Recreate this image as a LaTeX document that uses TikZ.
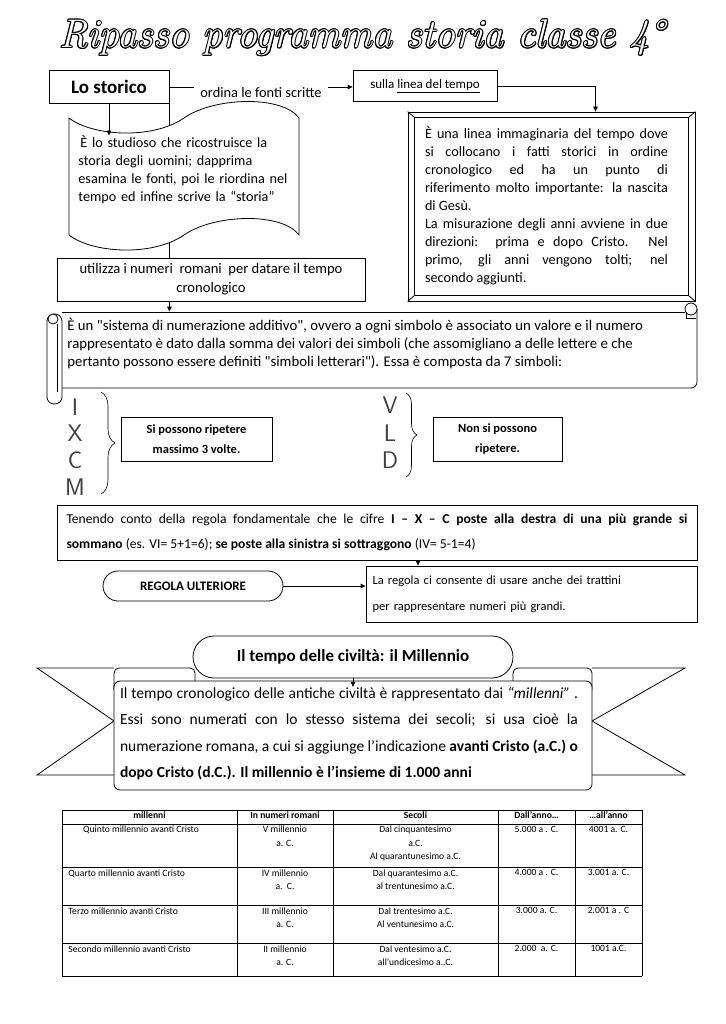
\documentclass[tikz,border=0pt]{standalone}
\usepackage{fontspec}
\setmainfont{Carlito}[Ligatures=TeXOff]
\newfontfamily\titlefont{Latin Modern Roman}
\usetikzlibrary{arrows.meta,decorations.pathreplacing}

\tikzset{
  box/.style={
    draw,
    fill=white,
    inner sep=0pt
  },
  arr/.style={
    -{Triangle[length=5pt,width=4.5pt]}
  },
  brc/.style={
    decorate,
    decoration={brace, amplitude=14pt},
    line width=0.6pt
  },
  numeral/.style={
    text=black!75,
    font=\sffamily\fontsize{24}{24}\selectfont
  },
  cell/.style={
    font=\fontsize{9.6}{13.5}\selectfont,
    align=center,
    anchor=north,
    inner sep=0pt
  },
  titletext/.style={
    font=\titlefont\itshape\fontsize{40}{40}\selectfont
  }
}

\begin{document}
\begin{tikzpicture}[x=1pt, y=-1pt, line width=0.8pt]
  \useasboundingbox (0,0) rectangle (725,1024);
  \fill[white] (0,0) rectangle (725,1024);

  \foreach \a in {0,30,...,330}
    \node[titletext] at ([shift={(\a:1)}]362,38) {Ripasso programma storia classe 4°};
  \node[titletext, text=white] (title) at (362,38) {Ripasso programma storia classe 4°};

  \node[box, minimum width=120pt, minimum height=33pt,
    font=\bfseries\fontsize{19}{22}\selectfont] (storico) at (109,87) {Lo storico};
  \node[box, minimum width=144pt, minimum height=31pt,
    font=\fontsize{13}{15}\selectfont] (linea) at (425,86) {sulla \underline{linea del tempo}};
  \draw[arr] (storico.east) -- node[fill=white, yshift=-6pt, inner xsep=6pt,
    font=\fontsize{14.4}{16}\selectfont] (ordina) {ordina le fonti scritte} (storico.east -| linea.west);

  \node[box, minimum width=308pt, minimum height=43pt, align=center,
    font=\fontsize{14.6}{19}\selectfont] (utilizza) at (211,279.5)
    {utilizza i numeri\ \ romani\ \ per datare il tempo\\cronologico};
  \draw (storico.south east) -- (storico.south east |- utilizza.north);

  \draw[fill=white] (69,118) .. controls (92,136) and (152,140) .. (184,118)
    .. controls (214,97) and (282,95) .. (299,118)
    -- (299,235)
    .. controls (282,212) and (214,214) .. (184,235)
    .. controls (152,257) and (92,253) .. (69,235) -- cycle;
  \node[anchor=west, text width=215pt, align=left, inner sep=0pt,
    font=\fontsize{14.2}{18}\selectfont] (studioso) at (78,170)
    {\hspace{2pt}È lo studioso che ricostruisce la\\storia degli uomini; dapprima\\esamina le fonti, poi le riordina nel\\tempo ed infine scrive la “storia”};
  \draw[arr] (storico.south) -- (storico.south |- studioso.north);

  \node[box, minimum width=287pt, minimum height=189pt] (frame) at (551.5,206.5) {};
  \draw ([shift={(7,6)}]frame.north west) rectangle ([shift={(-7,-6)}]frame.south east);
  \foreach \c/\dx/\dy in {north west/7/6, north east/-7/6, south west/7/-6, south east/-7/-6}
    \draw (frame.\c) -- ([shift={(\dx,\dy)}]frame.\c);
  \node[text width=243pt, align=justify, inner sep=0pt,
    font=\fontsize{14.2}{18}\selectfont] (frametext) at (546.5,205.5)
    {È una linea immaginaria del tempo dove\linebreak
     si collocano i fatti storici in ordine\linebreak
     cronologico ed ha un punto di\linebreak
     riferimento molto importante: la nascita\linebreak
     di Gesù.\\
     La misurazione degli anni avviene in due\linebreak
     direzioni:\ \ prima e dopo Cristo. Nel\linebreak
     primo, gli anni vengono tolti; nel\linebreak
     secondo aggiunti.};
  \draw[arr] (linea.east) -| ([xshift=44pt]frame.north);

  \node[minimum width=635pt, minimum height=76pt, inner sep=0pt] (scroll) at (379.5,350) {};
  \draw (62,312) -- (685,312);
  \draw[rounded corners=6pt] (697,309) -- (697,388) -- (62,388);
  \draw (691,309) circle (6pt);
  \draw (686,313) -- (686,318) -- (696,318);
  \draw[fill=white, rounded corners=7pt] (47,314) rectangle (62,404);
  \draw[fill=white] (53,319) circle (5pt);
  \draw (57,324) -- (57,392);
  \draw[arr] (storico.south east |- utilizza.south) -- (storico.south east |- scroll.north);
  \node[anchor=west, align=left, inner sep=0pt,
    font=\fontsize{14.8}{18}\selectfont] (additivo) at (67,344)
    {È un "sistema di numerazione additivo", ovvero a ogni simbolo è associato un valore e il numero\\
     rappresentato è dato dalla somma dei valori dei simboli (che assomigliano a delle lettere e che\\
     pertanto possono essere definiti "simboli letterari"). Essa è composta da 7 simboli:};

  \node[numeral] (nI) at (75,407) {I};
  \node[numeral] (nX) at (75,433) {X};
  \node[numeral] (nC) at (75,460) {C};
  \node[numeral] (nM) at (75,487) {M};
  \draw[brc] (101,392) -- (101,494);
  \node[box, minimum width=151pt, minimum height=44pt, align=center,
    font=\bfseries\fontsize{12.5}{20}\selectfont] (ripeti) at (196.5,439)
    {Si possono ripetere\\massimo 3 volte.};

  \node[numeral] (nV) at (390,405) {V};
  \node[numeral] (nL) at (390,433) {L};
  \node[numeral] (nD) at (390,460) {D};
  \draw[brc, decoration={amplitude=11pt}] (406,393) -- (406,477);
  \node[box, minimum width=129pt, minimum height=44pt, align=center,
    font=\bfseries\fontsize{12.5}{20}\selectfont] (nonripeti) at (497.5,439)
    {Non si possono\\ripetere.};

  \node[box, minimum width=640pt, minimum height=55pt, text width=621pt, align=justify,
    font=\fontsize{13.6}{25}\selectfont] (tenendo) at (377,532.5)
    {Tenendo conto della regola fondamentale che le cifre \textbf{I – X – C poste alla destra di una più grande si}\linebreak
     \textbf{sommano} (es. VI= 5+1=6); \textbf{se poste alla sinistra si sottraggono} (IV= 5-1=4)};

  \node[box, rounded corners=15pt, minimum width=180pt, minimum height=30pt,
    font=\bfseries\fontsize{13}{15}\selectfont] (regola) at (193,586) {REGOLA ULTERIORE};
  \node[box, minimum width=331pt, minimum height=56pt, text width=318pt, align=left,
    font=\fontsize{12.5}{26}\selectfont] (consente) at (531.5,594)
    {La regola ci consente di usare anche dei trattini\\per rappresentare numeri più grandi.};
  \draw[arr] ([xshift=41pt]tenendo.south) -- ([xshift=41pt]tenendo.south |- consente.north);
  \draw[arr] (regola.east) -- (regola.east -| consente.west);

  \draw (114,668) -- (37,668) -- (114,721) -- (37,775) -- (114,775);
  \draw (592,668) -- (685,668) -- (592,721) -- (685,775) -- (592,775);
  \draw[fill=white, rounded corners=5pt] (114,690) -- (114,668) -- (195,668) -- (195,690);
  \draw[fill=white, rounded corners=5pt] (592,690) -- (592,668) -- (513,668) -- (513,690);
  \draw[fill=white, rounded corners=6pt] (114,681) rectangle (592,790);
  \node[box, rounded corners=21pt, minimum width=320pt, minimum height=42pt,
    font=\bfseries\fontsize{17}{19}\selectfont] (millennio) at (353,657)
    {Il tempo delle civiltà: il Millennio};
  \node[text width=458pt, align=justify, inner sep=0pt,
    font=\fontsize{15.5}{26.3}\selectfont] (civilta) at (349,733.5)
    {Il tempo cronologico delle antiche civiltà è rappresentato dai \textit{“millenni”}\ .\linebreak
     Essi sono numerati con lo stesso sistema dei secoli; si usa cioè la\linebreak
     numerazione romana, a cui si aggiunge l’indicazione \textbf{avanti Cristo (a.C.) o}\linebreak
     \textbf{dopo Cristo (d.C.). Il millennio è l’insieme di 1.000 anni}};
  \draw[arr] (millennio.south) -- (millennio.south |- civilta.north);

  \foreach \x in {62,237,333,498,575,642}
    \draw[line width=0.6pt] (\x,810) -- (\x,976);
  \foreach \y in {810,824,867,905,943,976}
    \draw[line width=0.6pt] (62,\y) -- (642,\y);

  \node[cell, font=\bfseries\fontsize{9.6}{13.5}\selectfont] (h1) at (149.5,811.5) {millenni};
  \node[cell, font=\bfseries\fontsize{9.6}{13.5}\selectfont] (h2) at (285,811.5) {In numeri romani};
  \node[cell, font=\bfseries\fontsize{9.6}{13.5}\selectfont] (h3) at (415.5,811.5) {Secoli};
  \node[cell, font=\bfseries\fontsize{9.6}{13.5}\selectfont] (h4) at (536.5,811.5) {Dall’anno…};
  \node[cell, font=\bfseries\fontsize{9.6}{13.5}\selectfont] (h5) at (608.5,811.5) {…all’anno};

  \node[cell] (a1) at (141,825.5) {Quinto millennio avanti Cristo};
  \node[cell] (a2) at (285,825.5) {V millennio\\a. C.};
  \node[cell] (a3) at (415.5,825.5) {Dal cinquantesimo\\a.C.\\Al quarantunesimo a.C.};
  \node[cell] (a4) at (536.5,825.5) {5.000 a . C.};
  \node[cell] (a5) at (608.5,825.5) {4001 a. C.};

  \node[cell, anchor=north west] (b1) at (68,869) {Quarto millennio avanti Cristo};
  \node[cell] (b2) at (285,869) {IV millennio\\a.\ \ C.};
  \node[cell] (b3) at (415.5,869) {Dal quarantesimo a.C.\\al trentunesimo a.C.};
  \node[cell] (b4) at (536.5,869) {4.000 a . C.};
  \node[cell] (b5) at (608.5,869) {3.001 a. C.};

  \node[cell, anchor=north west] (c1) at (68,907) {Terzo millennio avanti Cristo};
  \node[cell] (c2) at (285,907) {III millennio\\a. C.};
  \node[cell] (c3) at (415.5,907) {Dal trentesimo a.C.\\Al ventunesimo a.C.};
  \node[cell] (c4) at (536.5,907) {3.000 a. C.};
  \node[cell] (c5) at (608.5,907) {2.001 a . C};

  \node[cell, anchor=north west] (d1) at (68,945) {Secondo millennio avanti Cristo};
  \node[cell] (d2) at (285,945) {II millennio\\a. C.};
  \node[cell] (d3) at (415.5,945) {Dal ventesimo a.C.\\all’undicesimo a..C.};
  \node[cell] (d4) at (536.5,945) {2.000\ \ a. C.};
  \node[cell] (d5) at (608.5,945) {1001 a.C.};
\end{tikzpicture}
\end{document}
